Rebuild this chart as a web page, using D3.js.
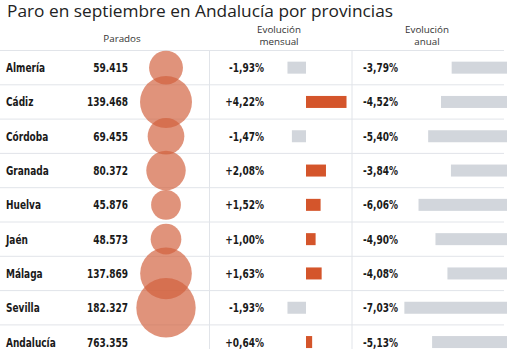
<!DOCTYPE html>
<html>
<head>
<meta charset="utf-8">
<script src="https://cdn.jsdelivr.net/npm/d3@7"></script>
<style>
  body { margin: 0; background: #fff; }
  svg { display: block; }
</style>
</head>
<body>
<div id="chart"></div>
<script>
// datos de la tabla
const provincias = ['Almería', 'Cádiz', 'Córdoba', 'Granada', 'Huelva', 'Jaén', 'Málaga', 'Sevilla', 'Andalucía'];
const parados = [59415, 139468, 69455, 80372, 45876, 48573, 137869, 182327, 763355];
const evolMensual = [-1.93, 4.22, -1.47, 2.08, 1.52, 1.00, 1.63, -1.93, 0.64];
const evolAnual = [-3.79, -4.52, -5.40, -3.84, -6.06, -4.90, -4.08, -7.03, -5.13];

const width = 508, height = 349;
const condensed = "'DejaVu Sans Condensed', 'DejaVu Sans', sans-serif";
const sans = "'Open Sans', 'Noto Sans', sans-serif";
const squeeze = 0.8; // la fuente original es condensada

const fmtNum = d3.formatLocale({decimal: ',', thousands: '.', grouping: [3], currency: ['', '€']}).format(',d');
const fmtPct = v => (v > 0 ? '+' : '') + v.toFixed(2).replace('.', ',') + '%';

const svg = d3.select('#chart').append('svg')
    .attr('width', width)
    .attr('height', height);

const rows = provincias.map((p, i) => ({
    name: p, parados: parados[i], mensual: evolMensual[i], anual: evolAnual[i]
}));

let y = d3.scaleBand()
    .domain(provincias)
    .range([50.5, 50.5 + 34.3 * provincias.length])
    .padding(0);

// radio proporcional al área, sin el total andaluz
let r = d3.scaleSqrt().domain([0, d3.max(parados.slice(0, 8))]).range([0, 29.7]);
let xMes = d3.scaleLinear().domain([0, 1]).range([306, 315.6]);
let xAnual = d3.scaleLinear().domain([0, 1]).range([507, 492.4]);

// titulo
svg.append('text')
    .attr('x', 7).attr('y', 17)
    .attr('textLength', 386)
    .attr('lengthAdjust', 'spacingAndGlyphs')
    .style('font-family', sans)
    .style('font-size', '17px')
    .style('fill', '#222')
    .text('Paro en septiembre en Andalucía por provincias');

// cabeceras
const head = svg.append('g')
    .style('font-family', sans)
    .style('font-size', '9.8px')
    .style('fill', '#333')
    .attr('text-anchor', 'middle');
head.append('text').attr('x', 122).attr('y', 42).text('Parados');
head.append('text').attr('x', 279).attr('y', 32.5).text('Evolución');
head.append('text').attr('x', 279).attr('y', 45).text('mensual');
head.append('text').attr('x', 427).attr('y', 32.5).text('Evolución');
head.append('text').attr('x', 427).attr('y', 45).text('anual');

// lineas de la rejilla
svg.append('g').selectAll('line').data(provincias).join('line')
    .attr('x1', 0).attr('x2', 504)
    .attr('y1', d => y(d)).attr('y2', d => y(d))
    .style('stroke', '#e1e4e9').style('stroke-width', 1);
svg.append('g').selectAll('line').data([209.5, 352]).join('line')
    .attr('x1', d => d).attr('x2', d => d)
    .attr('y1', 50).attr('y2', height)
    .style('stroke', '#e1e4e9').style('stroke-width', 1);

const mid = d => y(d.name) + y.bandwidth() / 2;

// textos de cada fila
const g = svg.append('g');
function celda(cls, x, anchor, txt) {
    g.selectAll('.' + cls).data(rows).join('text')
        .attr('class', cls)
        .attr('transform', d => `translate(${x},${mid(d) + 4.5}) scale(${squeeze},1)`)
        .attr('text-anchor', anchor)
        .style('font-family', condensed).style('font-weight', 'bold')
        .style('font-size', '12.5px').style('fill', '#1a1a1a')
        .text(txt);
}
celda('nombre', 6, 'start', d => d.name);
celda('parados', 128, 'end', d => fmtNum(d.parados));
celda('mes', 264, 'end', d => fmtPct(d.mensual));
celda('anual', 398, 'end', d => fmtPct(d.anual));

// barras mensuales
g.selectAll('.barMes').data(rows).join('rect')
    .attr('class', 'barMes')
    .attr('x', d => Math.min(xMes(0), xMes(d.mensual)))
    .attr('width', d => Math.abs(xMes(d.mensual) - xMes(0)))
    .attr('y', d => mid(d) - 6).attr('height', 12)
    .style('fill', d => d.mensual > 0 ? '#d4552b' : '#d2d6dc');

// barras anuales (alineadas a la derecha)
g.selectAll('.barAnual').data(rows).join('rect')
    .attr('class', 'barAnual')
    .attr('x', d => xAnual(-d.anual))
    .attr('width', d => xAnual(0) - xAnual(-d.anual))
    .attr('y', d => mid(d) - 6).attr('height', 12)
    .style('fill', '#d2d6dc');

// circulos de parados
g.selectAll('circle').data(rows.filter(d => d.name !== 'Andalucía')).join('circle')
    .attr('cx', 166)
    .attr('cy', d => mid(d))
    .attr('r', d => r(d.parados))
    .style('fill', '#d2603c')
    .style('fill-opacity', 0.68);
</script>
</body>
</html>
